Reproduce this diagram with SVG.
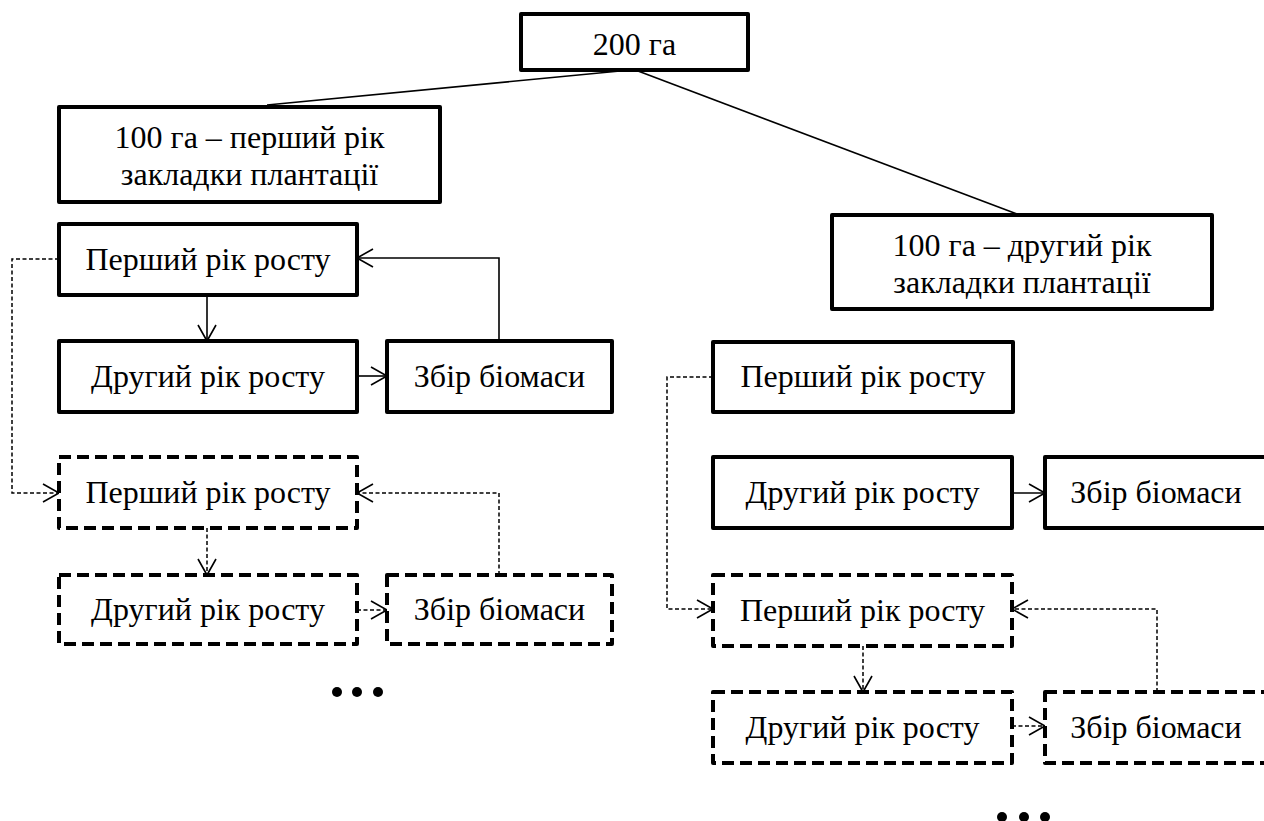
<svg xmlns="http://www.w3.org/2000/svg" width="1264" height="821" viewBox="0 0 1264 821">
<defs>
<style>
.box{fill:#fff;stroke:#000;stroke-width:4;stroke-linejoin:round}
.dbox{fill:#fff;stroke:#000;stroke-width:4;stroke-linejoin:round;stroke-dasharray:12 6}
.t{font-family:"Liberation Serif","Times New Roman",serif;font-size:32px;fill:#000;text-anchor:middle}
.c{fill:none;stroke:#000;stroke-width:1.6}
.dc{fill:none;stroke:#000;stroke-width:1.5;stroke-dasharray:4 2.5}
</style>
<marker id="arr" markerUnits="userSpaceOnUse" viewBox="-19 -11 21 22" refX="0" refY="0" markerWidth="21" markerHeight="22" orient="auto">
<path d="M-16,-9 L0,0 L-16,9" fill="none" stroke="#000" stroke-width="1.6" stroke-dasharray="none"/>
</marker>
</defs>
<rect width="1264" height="821" fill="#fff"/>
<g id="connectors">
<line class="c" x1="620" y1="71" x2="267" y2="105"/>
<line class="c" x1="638" y1="71" x2="1017" y2="214"/>
<line class="c" x1="207" y1="295" x2="207" y2="341" marker-end="url(#arr)"/>
<line class="c" x1="357" y1="376" x2="387" y2="376" marker-end="url(#arr)"/>
<polyline class="c" points="499,341 499,258 357,258" marker-end="url(#arr)"/>
<polyline class="dc" points="59,259 12,259 12,493 59,493" marker-end="url(#arr)"/>
<line class="dc" x1="207" y1="528" x2="207" y2="575" marker-end="url(#arr)"/>
<line class="dc" x1="357" y1="610" x2="387" y2="610" marker-end="url(#arr)"/>
<polyline class="dc" points="499,575 499,493 357,493" marker-end="url(#arr)"/>
<polyline class="dc" points="713,377 667,377 667,609 713,609" marker-end="url(#arr)"/>
<line class="c" x1="1012" y1="493" x2="1045" y2="493" marker-end="url(#arr)"/>
<line class="dc" x1="863" y1="646" x2="863" y2="692" marker-end="url(#arr)"/>
<line class="dc" x1="1012" y1="726" x2="1045" y2="726" marker-end="url(#arr)"/>
<polyline class="dc" points="1157,692 1157,609 1012,609" marker-end="url(#arr)"/>
</g>
<g id="n-200"><rect class="box" x="521" y="14" width="227" height="56"/><text class="t" x="634.5" y="55">200 га</text></g>
<g id="n-left100"><rect class="box" x="59" y="107" width="381" height="95"/><text class="t" x="249.5" y="148">100 га – перший рік</text><text class="t" x="249.5" y="185">закладки плантації</text></g>
<g id="n-right100"><rect class="box" x="832" y="215" width="380" height="94"/><text class="t" x="1022" y="256">100 га – другий рік</text><text class="t" x="1022" y="293">закладки плантації</text></g>
<g id="n-lp1"><rect class="box" x="59" y="224" width="298" height="71"/><text class="t" x="208" y="270">Перший рік росту</text></g>
<g id="n-ld1"><rect class="box" x="59" y="341" width="298" height="71"/><text class="t" x="208" y="387">Другий рік росту</text></g>
<g id="n-lz1"><rect class="box" x="387" y="341" width="225" height="71"/><text class="t" x="499.5" y="387">Збір біомаси</text></g>
<g id="n-lp2"><rect class="dbox" x="59" y="457" width="298" height="71"/><text class="t" x="208" y="503">Перший рік росту</text></g>
<g id="n-ld2"><rect class="dbox" x="59" y="575" width="298" height="69"/><text class="t" x="208" y="620">Другий рік росту</text></g>
<g id="n-lz2"><rect class="dbox" x="387" y="575" width="225" height="69"/><text class="t" x="499.5" y="620">Збір біомаси</text></g>
<g id="n-rp1"><rect class="box" x="713" y="342" width="300" height="70"/><text class="t" x="863" y="387">Перший рік росту</text></g>
<g id="n-rd1"><rect class="box" x="713" y="457" width="299" height="71"/><text class="t" x="862.5" y="503">Другий рік росту</text></g>
<g id="n-rz1"><rect class="box" x="1045" y="457" width="240" height="71"/><text class="t" x="1156" y="503">Збір біомаси</text></g>
<g id="n-rp2"><rect class="dbox" x="713" y="575" width="299" height="71"/><text class="t" x="862.5" y="621">Перший рік росту</text></g>
<g id="n-rd2"><rect class="dbox" x="713" y="692" width="299" height="71"/><text class="t" x="862.5" y="738">Другий рік росту</text></g>
<g id="n-rz2"><rect class="dbox" x="1045" y="692" width="240" height="71"/><text class="t" x="1156" y="738">Збір біомаси</text></g>
<g id="dots-left"><circle cx="337" cy="692" r="5"/><circle cx="357" cy="692" r="5"/><circle cx="378" cy="692" r="5"/></g>
<g id="dots-right"><circle cx="1002" cy="817" r="5"/><circle cx="1024" cy="817" r="5"/><circle cx="1045" cy="817" r="5"/></g>
</svg>
